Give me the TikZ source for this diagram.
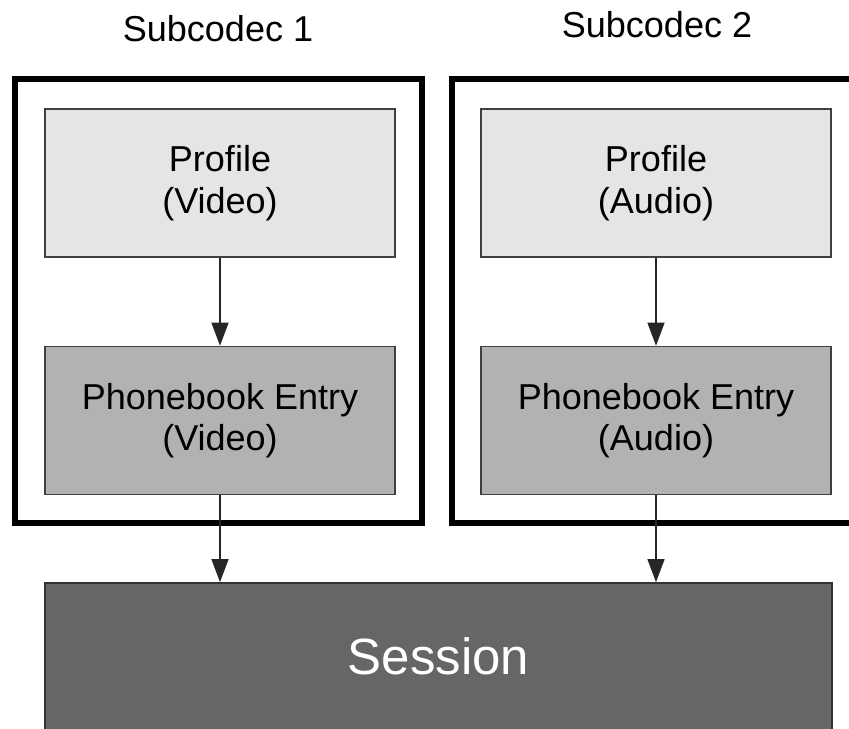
\documentclass[tikz,border=0pt]{standalone}
\usepackage{fontspec}
\setmainfont{Liberation Sans}
\usetikzlibrary{arrows.meta}

\begin{document}
\begin{tikzpicture}[x=0.02cm,y=-0.02cm,
    labelfont/.style={font=\fontsize{20.5}{23.6}\selectfont},
    subbox/.style={draw=black,line width=0.12cm,inner sep=0},
    profbox/.style={draw=black!75,line width=0.9pt,fill=black!10,minimum width=7cm,
        minimum height=2.96cm,align=center,labelfont},
    pbbox/.style={profbox,fill=black!30},
    arr/.style={-{Triangle[length=0.46cm,width=0.34cm]},line width=0.7pt,black!85}]

    % Frame
    \useasboundingbox (0,0) rectangle (849,728);
    \clip (0,0) rectangle (849,728);

    % Subcodec frames
    \node[subbox,minimum width=8.15cm,minimum height=8.88cm] (sub1) at (218.75,301) {};
    \node[subbox,minimum width=8.2cm,minimum height=8.88cm] (sub2) at (657,301) {};
    \node[labelfont,anchor=base] (title1) at (218,41) {Subcodec 1};
    \node[labelfont,anchor=base] (title2) at (657,37) {Subcodec 2};

    % Profiles and phonebook entries
    \node[profbox] (prof1) at (220,183) {Profile\\(Video)};
    \node[pbbox] (pb1) at (220,420.5) {Phonebook Entry\\(Video)};
    \node[profbox] (prof2) at (656,183) {Profile\\(Audio)};
    \node[pbbox] (pb2) at (656,420.5) {Phonebook Entry\\(Audio)};

    % Session
    \node[draw=black!80,line width=1pt,fill=black!60,text=white,minimum width=15.74cm,
        minimum height=2.94cm,font=\fontsize{29}{33}\selectfont] (session) at (438.5,656.5) {Session};

    % Arrows
    \draw[arr] (prof1) -- (pb1);
    \draw[arr] (prof2) -- (pb2);
    \draw[arr] (pb1.south) -- (pb1.south |- session.north);
    \draw[arr] (pb2.south) -- (pb2.south |- session.north);

\end{tikzpicture}
\end{document}
